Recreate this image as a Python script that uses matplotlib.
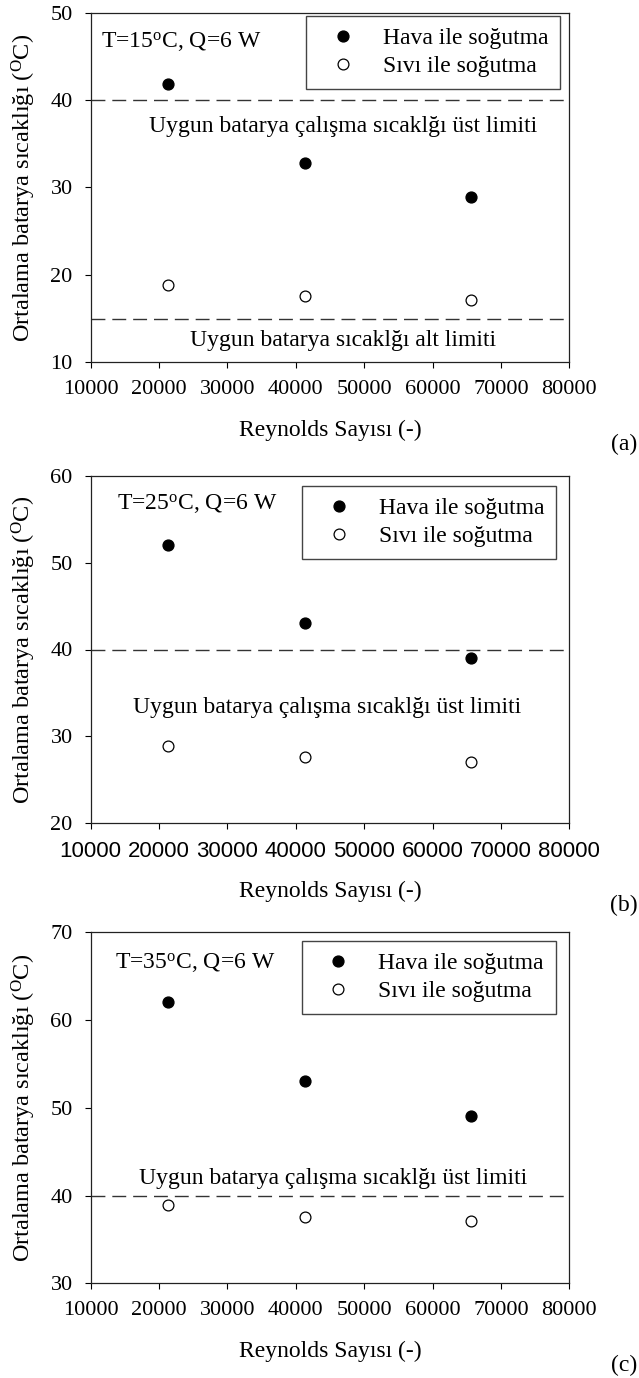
import matplotlib
matplotlib.use("Agg")
import matplotlib.pyplot as plt

plt.rcParams['font.family'] = ['Liberation Serif', 'DejaVu Serif']
plt.rcParams['mathtext.fontset'] = 'custom'
plt.rcParams['mathtext.rm'] = 'Liberation Serif'
plt.rcParams['mathtext.it'] = 'Liberation Serif:italic'
plt.rcParams['font.size'] = 17

# Reynolds sayıları (x)
reynolds = [21300, 41300, 65600]

# T=15 C
hava_15 = [41.8, 32.8, 28.9]
sivi_15 = [18.9, 17.6, 17.1]
# T=25 C
hava_25 = [52.0, 43.0, 39.0]
sivi_25 = [28.9, 27.6, 27.1]
# T=35 C
hava_35 = [62.1, 53.0, 49.1]
sivi_35 = [38.9, 37.6, 37.1]

x_ticks = [10000, 20000, 30000, 40000, 50000, 60000, 70000, 80000]
ust_limit = 40
alt_limit = 15

ust_text = "Uygun batarya çalışma sıcaklğı üst limiti"
alt_text = "Uygun batarya sıcaklğı alt limiti"

panels = [
    dict(temp=15, hava=hava_15, sivi=sivi_15, ylim=(10, 50),
         ust_pos=(46900, 36.95), alt=True, tpos=(11550, 46.6),
         leg=(560.0, 16.0), letter="(a)", top=12.7, bottom=362.3, sans_x=False),
    dict(temp=25, hava=hava_25, sivi=sivi_25, ylim=(20, 60),
         ust_pos=(44640, 33.3), alt=False, tpos=(13900, 56.8),
         leg=(556.3, 486.0), letter="(b)", top=475.7, bottom=823.3, sans_x=True),
    dict(temp=35, hava=hava_35, sivi=sivi_35, ylim=(30, 70),
         ust_pos=(45500, 41.9), alt=False, tpos=(13500, 66.5),
         leg=(555.5, 940.7), letter="(c)", top=932.3, bottom=1283.3, sans_x=False),
]

W, H = 639, 1378
fig = plt.figure(figsize=(W / 100, H / 100), dpi=100)

left_px, right_px = 90.7, 569.3

for p in panels:
    ax_h = p['bottom'] - p['top']
    ax = fig.add_axes([left_px / W, 1 - p['bottom'] / H,
                       (right_px - left_px) / W, ax_h / H])

    ax.plot(reynolds, p['hava'], 'o', color='black', markersize=7.8,
            label="Hava ile soğutma", zorder=3)
    ax.plot(reynolds, p['sivi'], 'o', markerfacecolor='white',
            markeredgecolor='black', markeredgewidth=0.9, markersize=7.8,
            label="Sıvı ile soğutma", zorder=3)

    ax.axhline(ust_limit, color='#333333', lw=1.0, dashes=(10, 5))
    ax.text(p['ust_pos'][0], p['ust_pos'][1], ust_text,
            ha='center', va='center', fontsize=17)
    if p['alt']:
        ax.axhline(alt_limit, color='#333333', lw=1.0, dashes=(10, 5))
        ax.text(46950, 12.47, alt_text, ha='center', va='center', fontsize=17)

    ax.text(p['tpos'][0], p['tpos'][1],
            "T=%d$^{\\rm o}$C, Q=6 W" % p['temp'],
            ha='left', va='center', fontsize=17)

    ax.set_xlim(10000, 80000)
    ax.set_ylim(*p['ylim'])
    ax.set_xticks(x_ticks)
    ax.set_yticks(range(p['ylim'][0], p['ylim'][1] + 1, 10))
    ax.tick_params(direction='out', length=4.5, width=0.8, labelsize=16)
    ax.tick_params(axis='y', pad=8.5)
    ax.tick_params(axis='x', pad=8)
    if p['sans_x']:
        for lab in ax.get_xticklabels():
            lab.set_family('Liberation Sans')
    for s in ax.spines.values():
        s.set_linewidth(0.9)
        s.set_color('#222222')

    ax.set_xlabel("Reynolds Sayısı (-)", fontsize=17)
    ax.xaxis.label.set_verticalalignment('center')
    ax.xaxis.set_label_coords(0.5, -68 / ax_h)
    ax.set_ylabel("Ortalama batarya sıcaklığı ($^{\\rm O}$C)", fontsize=17.5)
    ax.yaxis.label.set_verticalalignment('center')
    ax.yaxis.set_label_coords(-(left_px - 24) / (right_px - left_px), 0.5)

    # legend placed by its upper-right corner
    lx = (p['leg'][0] - left_px) / (right_px - left_px)
    ly = 1 - (p['leg'][1] - p['top']) / ax_h
    leg = ax.legend(loc='upper right', bbox_to_anchor=(lx, ly),
                    borderaxespad=0, frameon=True, fancybox=False,
                    edgecolor='#444444', framealpha=1, numpoints=1,
                    borderpad=0.5, handlelength=2.1, handletextpad=0.64,
                    labelspacing=0.27, fontsize=17)
    leg.get_frame().set_linewidth(1.0)

    ax.text((624 - left_px) / (right_px - left_px), -(82 / ax_h), p['letter'],
            transform=ax.transAxes, ha='center', va='center', fontsize=17,
            clip_on=False)

fig.savefig("out.png", dpi=100)
